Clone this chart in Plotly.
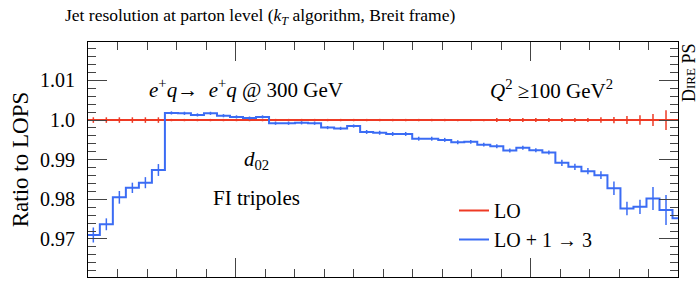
import numpy as np
import plotly.graph_objects as go

# ---------------- data ----------------
# bin edges of the jet-resolution observable (arbitrary axis units, 46 bins)
bin_edges = list(np.round(np.linspace(-0.04, -0.04 + 46 * 0.4412, 47), 4))

lo_ratio = [1.0, 1.0, 1.0, 1.0, 1.0, 1.0, 1.0, 1.0, 1.0, 1.0,
            1.0, 1.0, 1.0, 1.0, 1.0, 1.0, 1.0, 1.0, 1.0, 1.0,
            1.0, 1.0, 1.0, 1.0, 1.0, 1.0, 1.0, 1.0, 1.0, 1.0,
            1.0, 1.0, 1.0, 1.0, 1.0, 1.0, 1.0, 1.0, 1.0, 1.0,
            1.0, 1.0, 1.0, 1.0, 1.0, 1.0]
lo_err = [0.0007, 0.0007, 0.0007, 0.0007, 0.0007, 0.0007,
          0.0003, 0.0003, 0.0003, 0.0003, 0.0003, 0.0003, 0.0003, 0.0003,
          0.0003, 0.0003, 0.0003, 0.0003, 0.0003, 0.0003, 0.0003, 0.0003,
          0.0003, 0.0003, 0.0003, 0.0003, 0.0003, 0.0003, 0.0003, 0.0003,
          0.0003,
          0.0005, 0.0005, 0.0005, 0.0005, 0.0005, 0.0005, 0.0005, 0.0005,
          0.0007, 0.0008, 0.0010, 0.0012, 0.0015, 0.0025, 0.0030]

nlo_ratio = [0.9710, 0.9737, 0.9805, 0.9829, 0.9842, 0.9874,
             1.0018, 1.0017, 1.0013, 1.0017, 1.0011, 1.0008, 1.0005, 1.0008,
             0.9992, 0.9992, 0.9993, 0.9992, 0.9981, 0.9979, 0.9985, 0.9970,
             0.9968, 0.9965, 0.9965, 0.9953, 0.9953, 0.9950, 0.9944, 0.9945,
             0.9938, 0.9934, 0.9923, 0.9930, 0.9924, 0.9918, 0.9892, 0.9882,
             0.9871, 0.9861, 0.9828, 0.9777, 0.9781, 0.9802, 0.9773, 0.9752]
nlo_err = [0.0019, 0.0015, 0.0016, 0.0013, 0.0014, 0.0015,
           0.0004, 0.0004, 0.0004, 0.0004, 0.0004, 0.0004, 0.0004, 0.0004,
           0.0004, 0.0004, 0.0004, 0.0004, 0.0004, 0.0004, 0.0004,
           0.0005, 0.0005, 0.0005, 0.0005, 0.0005, 0.0005, 0.0005, 0.0005,
           0.0005, 0.0005, 0.0005, 0.0005, 0.0005, 0.0005, 0.0005,
           0.0008, 0.0008, 0.0008, 0.0010, 0.0017, 0.0017, 0.0018, 0.0029,
           0.0038, 0.0040]

y_tickvals = [0.97, 0.98, 0.99, 1.0, 1.01]
y_ticktext = ["0.97", "0.98", "0.99", "1.0", "1.01"]

RED = "#ee3a24"
BLUE = "#3b6cf4"
FONT = "Liberation Serif"

centers = [(bin_edges[i] + bin_edges[i + 1]) / 2 for i in range(len(bin_edges) - 1)]

fig = go.Figure()


def add_hist(values, errors, color, name):
    fig.add_trace(go.Scatter(
        x=bin_edges, y=list(values) + [values[-1]], mode="lines",
        line=dict(color=color, width=2, shape="hv"), name=name,
        showlegend=True))
    fig.add_trace(go.Scatter(
        x=centers, y=values, mode="markers",
        marker=dict(size=1, color=color, opacity=0),
        error_y=dict(type="data", array=errors, color=color, thickness=1.5, width=0),
        showlegend=False, hoverinfo="skip"))


add_hist(lo_ratio, lo_err, RED, "LO")
add_hist(nlo_ratio, nlo_err, BLUE, "LO + 1 \u2192 3")

axis_common = dict(showgrid=False, zeroline=False, showline=True, linecolor="black",
                   linewidth=1, mirror="allticks", ticks="inside", tickcolor="#444444")

fig.update_xaxes(range=[0, 20], tick0=5, dtick=10, ticklen=19, showticklabels=False,
                 minor=dict(dtick=1, ticklen=8, ticks="inside", tickcolor="#444444"),
                 **axis_common)
fig.update_yaxes(range=[0.9604, 1.0197], tickvals=y_tickvals, ticktext=y_ticktext,
                 ticklen=19, ticklabelstandoff=8,
                 tickfont=dict(family=FONT, size=20, color="black"),
                 minor=dict(dtick=0.002, tick0=0.97, ticklen=8, ticks="inside", tickcolor="#444444"),
                 title=dict(text="Ratio to LOPS", font=dict(family=FONT, size=23, color="black"),
                            standoff=4),
                 **axis_common)

X0, X1 = 0, 20
Y0, Y1 = 0.9604, 1.0197


def px_to_data(px, py):
    return X0 + (px - 88) / 590 * (X1 - X0), Y1 - (py - 42) / 235 * (Y1 - Y0)


annots = [
    ("<i>e</i><sup>+</sup><i>q</i>\u2192  <i>e</i><sup>+</sup><i>q</i> @ 300 GeV", 246, 88),
    ("<i>Q</i><sup>2</sup> \u2265100 GeV<sup>2</sup>", 551, 89),
    ("<i>d</i><sub>02</sub>", 256, 160),
    ("FI tripoles", 256, 198),
]
for txt, px, py in annots:
    xd, yd = px_to_data(px, py)
    fig.add_annotation(x=xd, y=yd, xref="x", yref="y", text=txt, showarrow=False,
                       font=dict(family=FONT, size=21, color="black"),
                       xanchor="center", yanchor="middle")

fig.add_annotation(x=(689 - 88) / 590, y=1.0, xref="paper", yref="paper",
                   text='D<span style="font-size:13px">IRE</span> PS', textangle=-90,
                   showarrow=False, xanchor="center", yanchor="top",
                   font=dict(family=FONT, size=18, color="black"))

fig.update_layout(
    width=700, height=281,
    margin=dict(l=88, r=22, t=42, b=4),
    plot_bgcolor="white", paper_bgcolor="white",
    font=dict(family=FONT, color="black"),
    title=dict(text="Jet resolution at parton level (<i>k</i><sub><i>T</i></sub> algorithm, Breit frame)",
               x=65 / 700, xref="container", xanchor="left",
               y=1 - 15 / 281, yref="container", yanchor="middle",
               font=dict(family=FONT, size=17.5, color="black")),
    legend=dict(x=(454 - 88) / 590, y=(277 - 191) / 235, xanchor="left", yanchor="top",
                bgcolor="rgba(0,0,0,0)", borderwidth=0,
                font=dict(family=FONT, size=20, color="black"),
                itemwidth=30, tracegroupgap=0),
)

fig.write_html("out.html")
